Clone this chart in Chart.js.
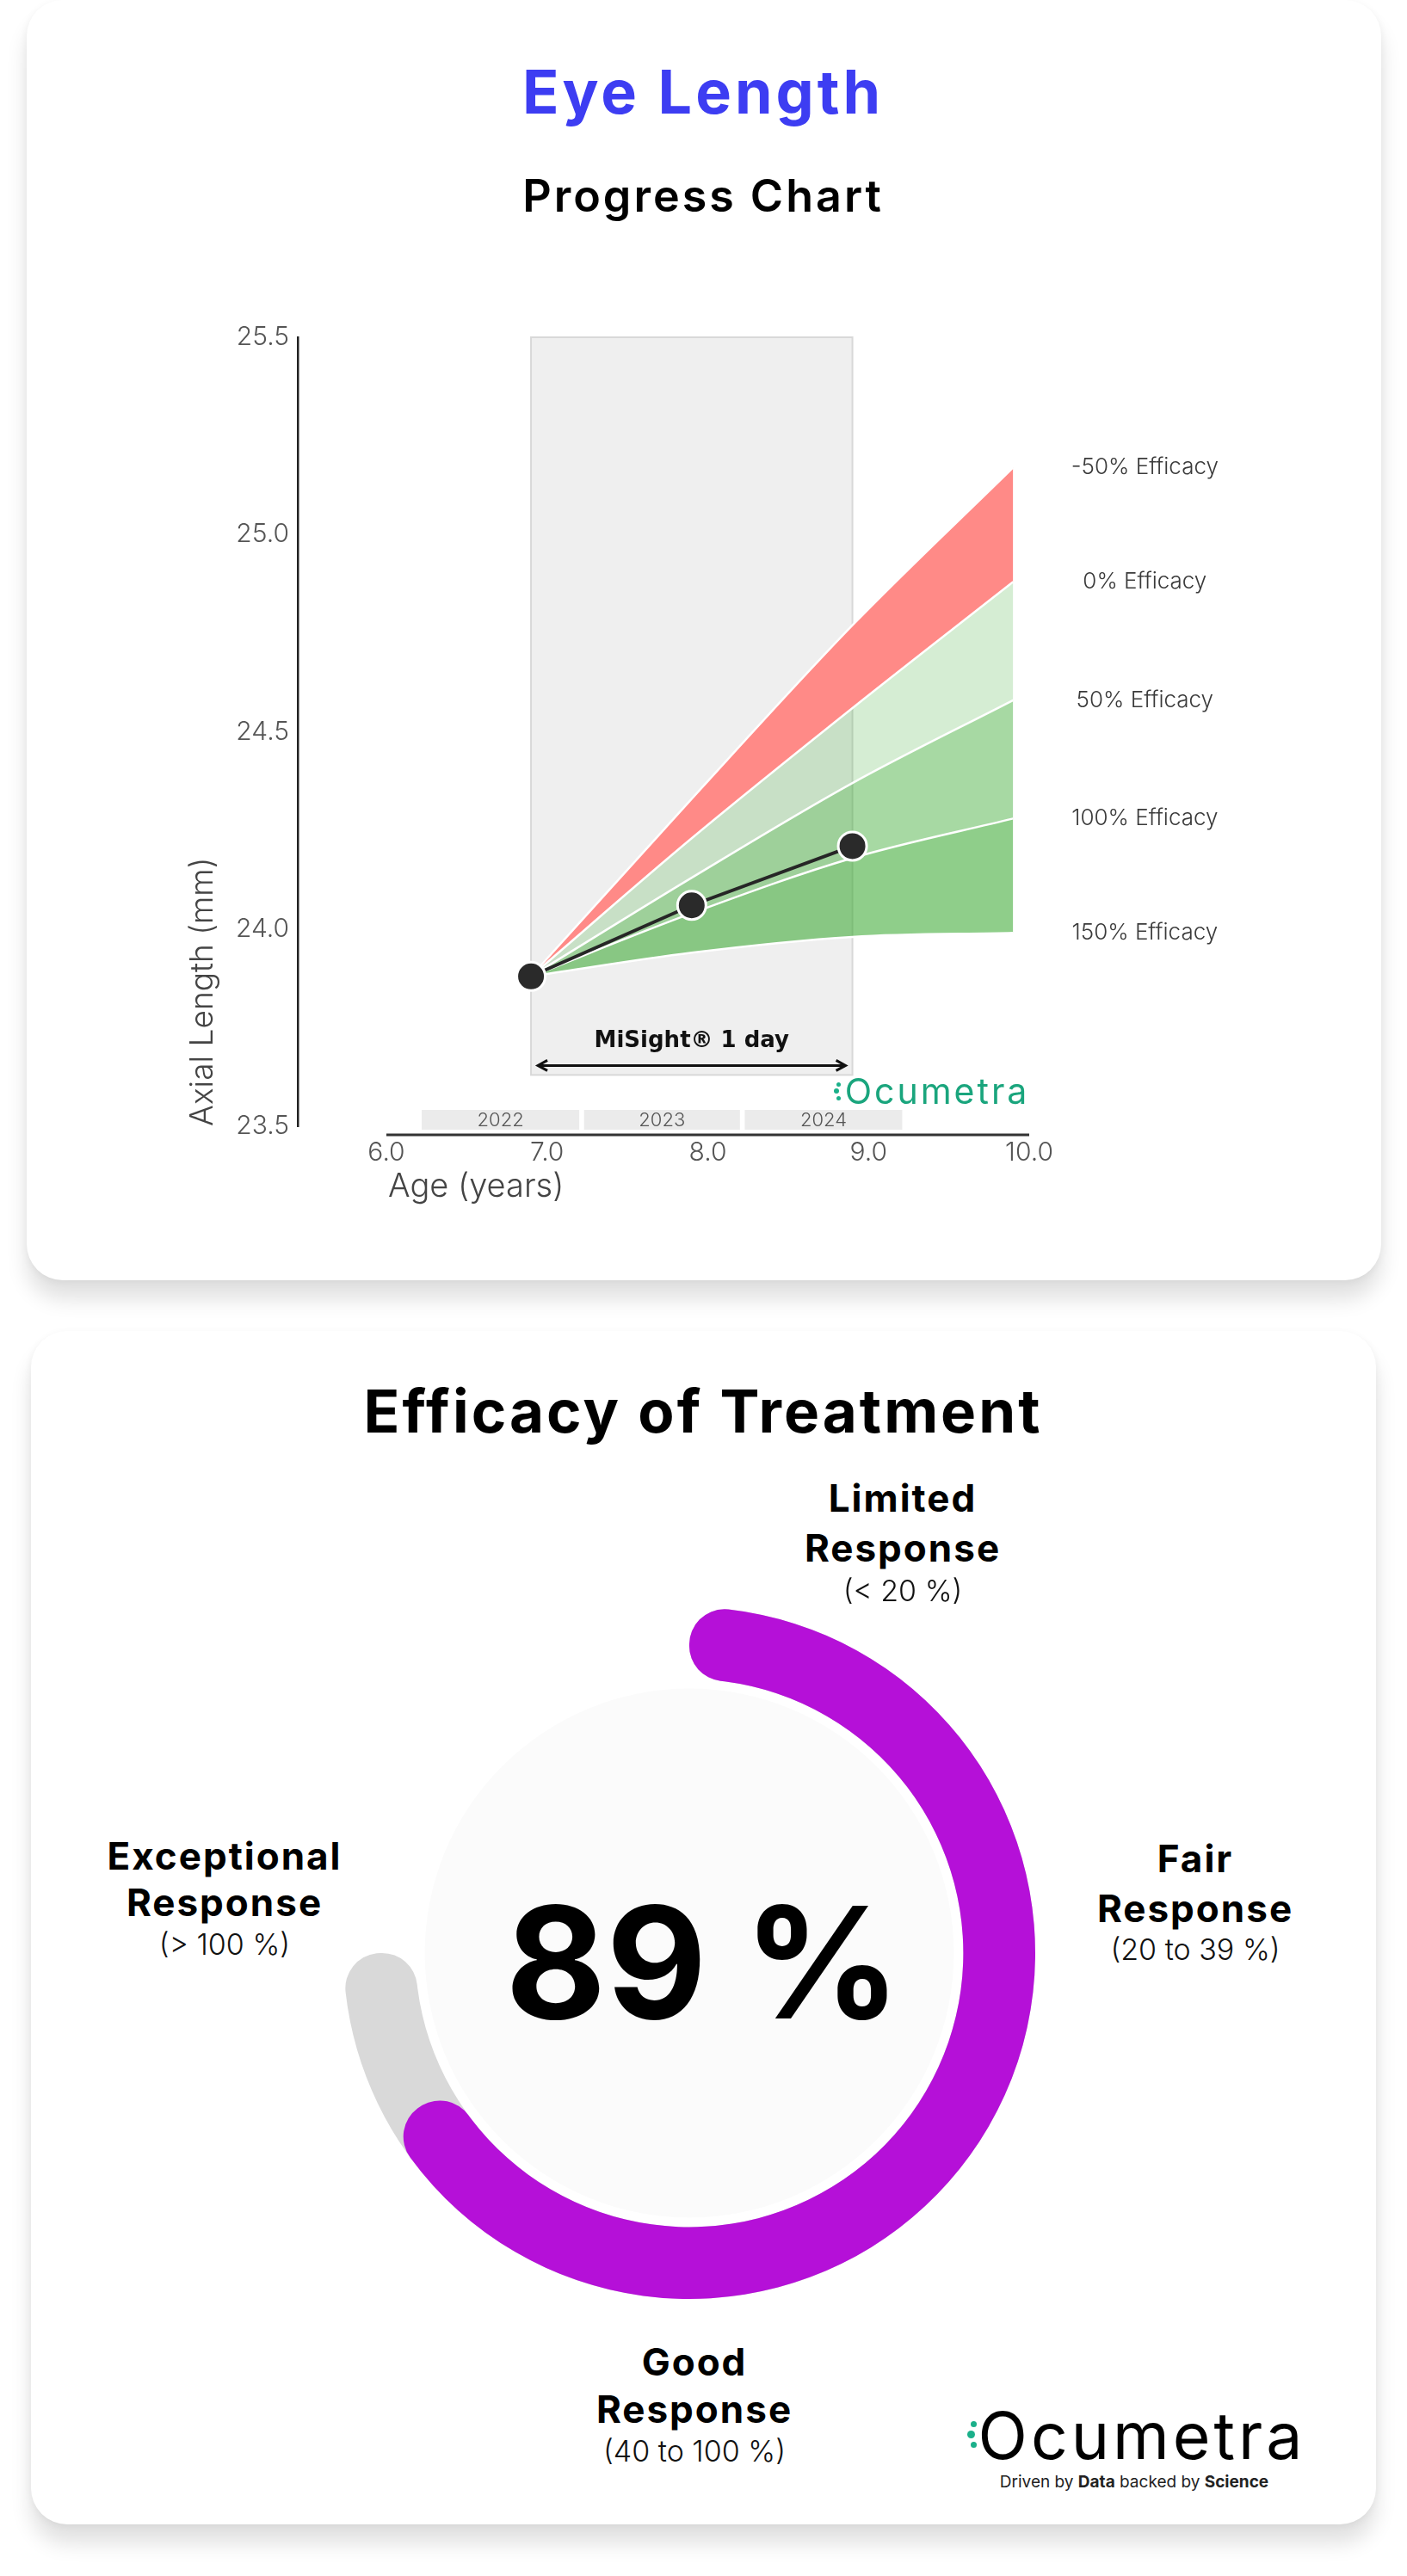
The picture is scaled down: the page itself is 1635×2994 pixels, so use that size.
<!DOCTYPE html>
<html lang="en">
<head>
<meta charset="utf-8">
<title>Eye Length</title>
<script src="https://cdn.jsdelivr.net/npm/chart.js@4.4.1/dist/chart.umd.min.js"></script>
<style>
  html, body { margin: 0; padding: 0; background: #ffffff; }
  body { position: relative; width: 1635px; height: 2994px; overflow: hidden; font-family: Inter, "Open Sans", sans-serif; }
  .card { position: absolute; background: #ffffff; border-radius: 42px;
          box-shadow: 0 22px 24px rgba(0,0,0,0.12), 0 2px 10px rgba(0,0,0,0.05); }
  #card1 { left: 31px; top: 0; width: 1574px; height: 1488px; }
  #card2 { left: 36px; top: 1547px; width: 1563px; height: 1387px; }
  .txt { position: absolute; white-space: nowrap; transform: translateX(-50%); text-align: center; }
  .dot { position: absolute; border-radius: 50%; background: #1bb08a; }
  canvas { position: absolute; }
</style>
</head>
<body>
<div class="card" id="card1"></div>
<div class="card" id="card2"></div>
<canvas id="progressChart" width="1330" height="1100" style="left:150px;top:330px"></canvas>
<canvas id="gaugeTrack" width="804" height="804" style="left:399px;top:1868px"></canvas>
<canvas id="gaugeValue" width="804" height="804" style="left:399px;top:1868px"></canvas>
<script>
// ---------- data ----------
const visitAges = [6.9, 7.9, 8.9];
const visitLengths = [23.88, 24.06, 24.21];

const bandAges = [6.9, 7.9, 8.9, 9.9];
const eff150 = [23.88, 23.94, 23.98, 23.99];
const eff100 = [23.88, 24.04, 24.18, 24.28];
const eff50 = [23.88, 24.13, 24.37, 24.58];
const eff0 = [23.88, 24.23, 24.56, 24.88];
const effMinus50 = [23.88, 24.33, 24.77, 25.17];
const efficacyLabels = ['150% Efficacy', '100% Efficacy', '50% Efficacy', '0% Efficacy', '-50% Efficacy'];

const xTicks = [6, 7, 8, 9, 10];
const yearLabels = ['2022', '2023', '2024'];
const yearStarts = [6.22, 7.23, 8.23];
const yearEnds = [7.2, 8.2, 9.21];

const treatmentName = 'MiSight® 1 day';
const treatmentAges = [6.9, 8.9];
const treatmentFloor = 23.63;

const gaugeValue = 89;
const gaugeMax = 100;

// ---------- helpers ----------
const FONT = 'Inter, "Open Sans", sans-serif';
Chart.defaults.font.family = FONT;

function addText(text, cx, cy, size, weight, color, spacing) {
    const el = document.createElement('div');
    el.className = 'txt';
    el.innerHTML = text;
    el.style.left = cx + 'px';
    el.style.top = (cy - size / 2) + 'px';
    el.style.fontSize = size + 'px';
    el.style.lineHeight = size + 'px';
    el.style.fontWeight = weight;
    el.style.color = color;
    el.style.letterSpacing = (spacing || 0) + 'px';
    document.body.appendChild(el);
}

function addDot(x, y, r) {
    const d = document.createElement('div');
    d.className = 'dot';
    d.style.left = (x - r) + 'px';
    d.style.top = (y - r) + 'px';
    d.style.width = d.style.height = (2 * r) + 'px';
    document.body.appendChild(d);
}

const toPoints = (xs, ys) => xs.map((v, i) => ({ x: v, y: ys[i] }));

// ---------- progress chart ----------
const progressDecor = {
    id: 'progressDecor',
    beforeDatasetsDraw(chart) {
        const { ctx, chartArea, scales: { x, y } } = chart;
        ctx.save();
        // treatment period
        const l = x.getPixelForValue(treatmentAges[0]);
        const r = x.getPixelForValue(treatmentAges[1]);
        const t = y.getPixelForValue(y.max);
        const b = y.getPixelForValue(treatmentFloor);
        ctx.fillStyle = '#efefef';
        ctx.fillRect(l, t, r - l, b - t);
        ctx.strokeStyle = '#d8d8d8';
        ctx.lineWidth = 2;
        ctx.strokeRect(l, t, r - l, b - t);

        // year strips
        ctx.font = '300 22px ' + FONT;
        ctx.textAlign = 'center';
        ctx.textBaseline = 'middle';
        yearLabels.forEach((lab, i) => {
            const x0 = x.getPixelForValue(yearStarts[i]);
            const x1 = x.getPixelForValue(yearEnds[i]);
            ctx.fillStyle = '#ebebeb';
            ctx.fillRect(x0, chartArea.bottom - 19, x1 - x0, 23);
            ctx.fillStyle = '#555';
            ctx.fillText(lab, (x0 + x1) / 2, chartArea.bottom - 7);
        });
        ctx.restore();
    },
    afterDraw(chart) {
        const { ctx, chartArea, scales: { x, y } } = chart;
        ctx.save();
        // x axis line
        ctx.strokeStyle = '#333';
        ctx.lineWidth = 3;
        ctx.beginPath();
        ctx.moveTo(x.getPixelForValue(xTicks[0]), chartArea.bottom + 10);
        ctx.lineTo(x.getPixelForValue(xTicks[xTicks.length - 1]), chartArea.bottom + 10);
        ctx.stroke();

        // x title
        ctx.fillStyle = '#444';
        ctx.font = '300 38px ' + FONT;
        ctx.textAlign = 'left';
        ctx.textBaseline = 'middle';
        ctx.fillText('Age (years)', x.getPixelForValue(xTicks[0]) + 2, chartArea.bottom + 71);

        // efficacy labels at the end of each curve
        const series = [eff150, eff100, eff50, eff0, effMinus50];
        const lx = x.getPixelForValue(bandAges[bandAges.length - 1]) + 153;
        ctx.font = '300 26px ' + FONT;
        ctx.textAlign = 'center';
        ctx.fillStyle = '#3a3a3a';
        series.forEach((s, i) => {
            ctx.fillText(efficacyLabels[i], lx, y.getPixelForValue(s[s.length - 1]));
        });

        // treatment arrow + name
        const l = x.getPixelForValue(treatmentAges[0]);
        const r = x.getPixelForValue(treatmentAges[1]);
        const b = y.getPixelForValue(treatmentFloor);
        const ay = b - 11;
        ctx.strokeStyle = '#111';
        ctx.lineWidth = 3;
        ctx.beginPath();
        ctx.moveTo(l + 8, ay);
        ctx.lineTo(r - 8, ay);
        ctx.moveTo(l + 19, ay - 6);
        ctx.lineTo(l + 8, ay);
        ctx.lineTo(l + 19, ay + 6);
        ctx.moveTo(r - 19, ay - 6);
        ctx.lineTo(r - 8, ay);
        ctx.lineTo(r - 19, ay + 6);
        ctx.stroke();
        ctx.fillStyle = '#111';
        ctx.font = 'bold 26px "DejaVu Sans", sans-serif';
        ctx.fillText(treatmentName, (l + r) / 2, b - 39);
        ctx.restore();
    }
};

const bandSeries = [eff150, eff100, eff50, eff0, effMinus50];
const bandColors = ['transparent', 'rgba(60,170,50,0.574)', 'rgba(60,170,50,0.45)', 'rgba(60,170,50,0.215)', '#ff8a87'];

const datasets = [{
    label: 'Visits',
    data: toPoints(visitAges, visitLengths),
    borderColor: '#262626',
    borderWidth: 4,
    pointRadius: 16.5,
    pointBackgroundColor: '#2a2a2a',
    pointBorderColor: '#ffffff',
    pointBorderWidth: 3,
    fill: false,
    tension: 0,
    order: 0
}];
bandSeries.forEach((s, i) => {
    datasets.push({
        label: efficacyLabels[i],
        data: toPoints(bandAges, s),
        borderColor: '#ffffff',
        borderWidth: 2.5,
        pointRadius: 0,
        backgroundColor: bandColors[i],
        fill: i === 0 ? false : '-1',
        cubicInterpolationMode: 'monotone',
        order: 1
    });
});

new Chart(document.getElementById('progressChart'), {
    type: 'line',
    data: { datasets: datasets },
    options: {
        responsive: false,
        animation: false,
        events: [],
        layout: { padding: { left: 0, top: 62, right: 284, bottom: 61 } },
        plugins: { legend: { display: false }, tooltip: { enabled: false } },
        scales: {
            x: {
                type: 'linear',
                min: 5.4485,
                max: 10,
                afterBuildTicks: (scale) => { scale.ticks = xTicks.map(v => ({ value: v })); },
                afterFit: (scale) => { scale.height = 60; },
                grid: { display: false, drawTicks: false },
                border: { display: false },
                ticks: {
                    autoSkip: false,
                    maxRotation: 0,
                    padding: 13,
                    color: '#555',
                    font: { size: 30, weight: 300 },
                    callback: (v) => Number(v).toFixed(1)
                }
            },
            y: {
                min: 23.5,
                max: 25.5,
                afterFit: (scale) => { scale.width = 196; },
                grid: { display: false, drawTicks: false },
                border: { display: true, color: '#222', width: 2.5 },
                ticks: {
                    stepSize: 0.5,
                    padding: 10,
                    color: '#555',
                    font: { size: 30, weight: 300 },
                    callback: (v) => Number(v).toFixed(1)
                },
                title: {
                    display: true,
                    text: 'Axial Length (mm)',
                    align: 'start',
                    color: '#444',
                    font: { size: 37, weight: 300 },
                    padding: { top: 64, bottom: 0 }
                }
            }
        }
    },
    plugins: [progressDecor]
});

// ---------- efficacy gauge ----------
const innerDisk = {
    id: 'innerDisk',
    beforeDatasetsDraw(chart) {
        const arc = chart.getDatasetMeta(0).data[0];
        const ctx = chart.ctx;
        ctx.save();
        ctx.fillStyle = '#fbfbfb';
        ctx.beginPath();
        ctx.arc(arc.x, arc.y, arc.innerRadius - 11, 0, Math.PI * 2);
        ctx.fill();
        ctx.restore();
    }
};

const gaugeOptions = {
    responsive: false,
    animation: false,
    events: [],
    circumference: 270,
    rotation: 0,
    cutout: '79.2%',
    plugins: { legend: { display: false }, tooltip: { enabled: false } }
};

new Chart(document.getElementById('gaugeTrack'), {
    type: 'doughnut',
    data: {
        labels: ['Scale'],
        datasets: [{ data: [gaugeMax], backgroundColor: ['#d9d9d9'], borderWidth: 0, borderRadius: 41 }]
    },
    options: gaugeOptions,
    plugins: [innerDisk]
});

new Chart(document.getElementById('gaugeValue'), {
    type: 'doughnut',
    data: {
        labels: ['Efficacy', 'Rest'],
        datasets: [{
            data: [gaugeValue, gaugeMax - gaugeValue],
            backgroundColor: ['#b510d8', 'rgba(0,0,0,0)'],
            borderWidth: 0,
            borderRadius: [41, 0]
        }]
    },
    options: gaugeOptions
});

// ---------- texts ----------
addText('Eye Length', 817, 107, 70, 700, '#3d3df2', 4);
addText('Progress Chart', 817, 228, 52, 600, '#000', 3);
addText('Ocumetra', 1089, 1268, 41, 400, '#1aa57d', 3);
addDot(974, 1260, 2.5); addDot(972, 1268, 3); addDot(974, 1276, 2.5);

addText('Efficacy of Treatment', 817, 1640, 69, 700, '#000', 3);

addText('Limited', 1049, 1741, 44, 700, '#000', 2);
addText('Response', 1049, 1799, 44, 700, '#000', 2);
addText('(&lt; 20 %)', 1049, 1849, 34, 300, '#111', 0);

addText('Exceptional', 261, 2157, 44, 700, '#000', 2);
addText('Response', 261, 2211, 44, 700, '#000', 2);
addText('(&gt; 100 %)', 261, 2260, 34, 300, '#111', 0);

addText('Fair', 1389, 2160, 44, 700, '#000', 2);
addText('Response', 1389, 2218, 44, 700, '#000', 2);
addText('(20 to 39 %)', 1389, 2266, 34, 300, '#111', 0);

addText('Good', 807, 2745, 44, 700, '#000', 2);
addText('Response', 807, 2800, 44, 700, '#000', 2);
addText('(40 to 100 %)', 807, 2849, 34, 300, '#111', 0);

addText(gaugeValue + ' %', 817, 2281, 180, 700, '#000', 0);

addText('Ocumetra', 1327, 2830, 75, 400, '#000', 4);
addDot(1131, 2817, 3.5); addDot(1128, 2829, 4.5); addDot(1131, 2841, 3.5);
addText('Driven by <b>Data</b> backed by <b>Science</b>', 1318, 2884, 19, 400, '#222', 0);
</script>
</body>
</html>
